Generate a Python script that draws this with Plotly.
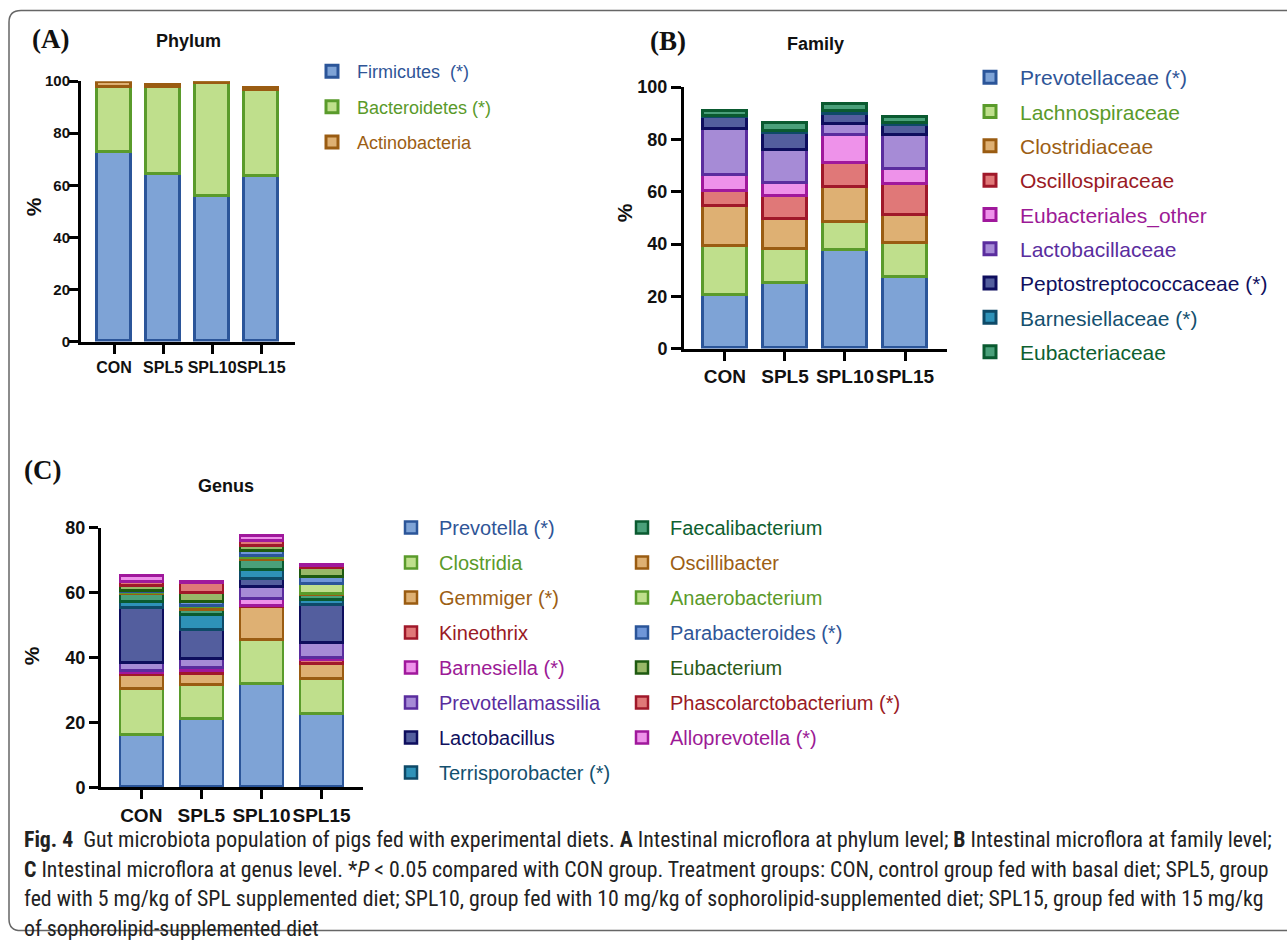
import plotly.graph_objects as go

W, H = 1287, 940

groups = ["CON", "SPL5", "SPL10", "SPL15"]

# ---- Phylum ----
phylum_names = ["Firmicutes  (*)", "Bacteroidetes (*)", "Actinobacteria"]
firmicutes = [72.9, 64.2, 56.0, 63.6]
bacteroidetes = [24.9, 33.6, 43.1, 32.9]
actinobacteria = [1.9, 0.5, 0.8, 0.8]
phylum_values = [firmicutes, bacteroidetes, actinobacteria]

# ---- Family ----
family_names = ["Prevotellaceae (*)", "Lachnospiraceae", "Clostridiaceae", "Oscillospiraceae",
                "Eubacteriales_other", "Lactobacillaceae", "Peptostreptococcaceae (*)",
                "Barnesiellaceae (*)", "Eubacteriaceae"]
prevotellaceae = [20.6, 24.9, 37.7, 27.5]
lachnospiraceae = [18.7, 13.2, 10.6, 12.7]
clostridiaceae = [15.0, 11.5, 13.6, 11.0]
oscillospiraceae = [6.1, 8.9, 9.1, 11.8]
eubacteriales_other = [5.8, 4.8, 10.5, 5.7]
lactobacillaceae = [17.8, 12.7, 4.5, 13.0]
peptostreptococcaceae = [4.7, 6.4, 3.8, 3.6]
barnesiellaceae = [0.3, 0.9, 1.2, 0.8]
eubacteriaceae = [1.8, 3.0, 2.4, 2.4]
family_values = [prevotellaceae, lachnospiraceae, clostridiaceae, oscillospiraceae,
                 eubacteriales_other, lactobacillaceae, peptostreptococcaceae,
                 barnesiellaceae, eubacteriaceae]

# ---- Genus ----
genus_names = ["Prevotella (*)", "Clostridia", "Gemmiger (*)", "Kineothrix", "Barnesiella (*)",
               "Prevotellamassilia", "Lactobacillus", "Terrisporobacter (*)",
               "Faecalibacterium", "Oscillibacter", "Anaerobacterium", "Parabacteroides (*)",
               "Eubacterium", "Phascolarctobacterium (*)", "Alloprevotella (*)"]
prevotella = [16.3, 21.0, 31.9, 22.5]
clostridia = [14.0, 10.7, 13.5, 10.8]
gemmiger = [4.3, 3.4, 10.3, 4.9]
kineothrix = [0.8, 0.7, 0.3, 1.0]
barnesiella = [0.5, 0.9, 2.0, 0.8]
prevotellamassilia = [2.6, 2.8, 3.8, 4.4]
lactobacillus = [16.8, 9.0, 2.6, 11.8]
terrisporobacter = [1.9, 4.6, 2.6, 1.5]
faecalibacterium = [2.3, 1.5, 3.0, 1.5]
oscillibacter = [0.4, 1.0, 0.6, 0.6]
anaerobacterium = [0.5, 0.5, 0.8, 2.8]
parabacteroides = [0.3, 1.2, 1.5, 2.2]
eubacterium = [1.5, 2.8, 1.7, 3.0]
phascolarctobacterium = [1.0, 2.8, 1.4, 0.5]
alloprevotella = [2.0, 0.4, 1.5, 0.2]
genus_values = [prevotella, clostridia, gemmiger, kineothrix, barnesiella, prevotellamassilia,
                lactobacillus, terrisporobacter, faecalibacterium, oscillibacter,
                anaerobacterium, parabacteroides, eubacterium, phascolarctobacterium,
                alloprevotella]

# ---- styles (fill, outline, legend text) ----
BLUE = ("#7ea3d6", "#2b5599", "#2f5597")
GREEN = ("#bfdf8c", "#5a9b2b", "#5a9a2a")
TAN = ("#deb073", "#9a5c12", "#9c5e14")
SALMON = ("#e07878", "#a0182a", "#9a1a24")
PINK = ("#ee92ea", "#a0189c", "#9c1a96")
LAV = ("#a68bd6", "#5a2d9e", "#5a2d9e")
SLATE = ("#535e9e", "#0e0e5e", "#10105e")
TEAL = ("#2e92b8", "#0e4a68", "#14506e")
DGREEN = ("#4aa07a", "#0a5a30", "#0e6030")
PBLUE = ("#6f96d8", "#2b5599", "#2f5597")
OLIVE = ("#98b868", "#1e5a10", "#2a5a18")

phylum_styles = [BLUE, GREEN, TAN]
family_styles = [BLUE, GREEN, TAN, SALMON, PINK, LAV, SLATE, TEAL, DGREEN]
genus_styles = [BLUE, GREEN, TAN, SALMON, PINK, LAV, SLATE, TEAL,
                DGREEN, TAN, GREEN, PBLUE, OLIVE, SALMON, PINK]

FONT = "Liberation Sans, Arial, sans-serif"

fig = go.Figure()


def add_stack(names, values, styles, xa, ya, legends, width, lw):
    for i, (n, v, s) in enumerate(zip(names, values, styles)):
        fig.add_trace(go.Bar(
            x=groups, y=v, name=f'<span style="color:{s[2]}">{n}</span>',
            marker=dict(color=s[0], line=dict(color=s[1], width=lw)),
            width=width, xaxis=xa, yaxis=ya, legend=legends[i],
            legendgroup=f"{xa}{i}", hoverinfo="skip"))


add_stack(phylum_names, phylum_values, phylum_styles, "x", "y", ["legend"] * 3, 0.7, 3)
add_stack(family_names, family_values, family_styles, "x2", "y2", ["legend2"] * 9, 0.72, 3)
add_stack(genus_names, genus_values, genus_styles, "x3", "y3",
          ["legend3"] * 8 + ["legend4"] * 7, 0.72, 2.5)

# the viewer shows the paper 11 px down and at 0.977 vertical scale
Y_OFF, Y_SC = 11.0, 0.977


def px_x(p):
    return p / W


def px_y(p):
    return 1 - ((p - Y_OFF) / Y_SC) / H


def axis(size, tl=9, standoff=0):
    return dict(showline=True, linewidth=3, linecolor="black", ticks="outside",
                ticklen=tl, tickwidth=3, tickcolor="black", showgrid=False,
                zeroline=False, fixedrange=True, tickangle=0, ticklabelstandoff=standoff,
                tickfont=dict(family=FONT, size=size, color="#111", weight="bold"))


fig.update_layout(
    width=W, height=H, autosize=False, paper_bgcolor="white", plot_bgcolor="white",
    margin=dict(l=0, r=0, t=0, b=0), barmode="stack", bargap=0,
    showlegend=True,
    xaxis=dict(domain=[px_x(81), px_x(295)], range=[-0.673, 3.69], anchor="y",
               type="category", **axis(16)),
    yaxis=dict(domain=[px_y(342), px_y(82)], range=[0, 100], anchor="x",
               tickvals=[0, 20, 40, 60, 80, 100], **axis(15, 9, -4)),
    xaxis2=dict(domain=[px_x(684), px_x(947)], range=[-0.683, 3.7], anchor="y2",
                type="category", **axis(19)),
    yaxis2=dict(domain=[px_y(349), px_y(88)], range=[0, 100], anchor="x2",
                tickvals=[0, 20, 40, 60, 80, 100], **axis(18, 10)),
    xaxis3=dict(domain=[px_x(101), px_x(363)], range=[-0.67, 3.69], anchor="y3",
                type="category", **axis(19)),
    yaxis3=dict(domain=[px_y(787), px_y(528)], range=[0, 80], anchor="x3",
                tickvals=[0, 20, 40, 60, 80], **axis(18, 9)),
)

leg_common = dict(orientation="v", traceorder="grouped", bgcolor="rgba(0,0,0,0)",
                  borderwidth=0, xanchor="left", yanchor="top", itemclick=False,
                  itemdoubleclick=False)
fig.update_layout(
    legend=dict(x=px_x(307), y=px_y(54), tracegroupgap=9, itemwidth=40,
                font=dict(family=FONT, size=18), **leg_common),
    legend2=dict(x=px_x(960), y=px_y(58), tracegroupgap=4, itemwidth=50,
                 font=dict(family=FONT, size=21), **leg_common),
    legend3=dict(x=px_x(383), y=px_y(508), tracegroupgap=6, itemwidth=46,
                 font=dict(family=FONT, size=20), **leg_common),
    legend4=dict(x=px_x(614), y=px_y(508), tracegroupgap=6, itemwidth=46,
                 font=dict(family=FONT, size=20), **leg_common),
)

ann = []
# panel labels
for txt, x, y in [("(A)", 30, 40), ("(B)", 648, 42), ("(C)", 22, 470)]:
    ann.append(dict(text=f"<b>{txt}</b>", x=px_x(x), y=px_y(y), xref="paper", yref="paper",
                    xanchor="left", yanchor="middle", showarrow=False,
                    font=dict(family="Liberation Serif, Times New Roman, serif", size=27,
                              color="#111")))
# titles
for txt, x, y in [("Phylum", 188, 42), ("Family", 815, 45), ("Genus", 226, 486)]:
    ann.append(dict(text=f"<b>{txt}</b>", x=px_x(x), y=px_y(y), xref="paper", yref="paper",
                    xanchor="center", yanchor="middle", showarrow=False,
                    font=dict(family=FONT, size=18, color="#111")))
# y-axis titles
for x, y in [(33, 208), (624, 214), (31, 656)]:
    ann.append(dict(text="<b>%</b>", x=px_x(x), y=px_y(y), xref="paper", yref="paper",
                    xanchor="center", yanchor="middle", showarrow=False, textangle=-90,
                    font=dict(family=FONT, size=21, color="#111")))

caption = [
    "<b>Fig. 4</b>  Gut microbiota population of pigs fed with experimental diets. <b>A</b> Intestinal "
    "microflora at phylum level; <b>B</b> Intestinal microflora at family level;",
    "<b>C</b> Intestinal microflora at genus level. *<i>P</i> &lt; 0.05 compared with CON group. "
    "Treatment groups: CON, control group fed with basal diet; SPL5, group",
    "fed with 5 mg/kg of SPL supplemented diet; SPL10, group fed with 10 mg/kg of "
    "sophorolipid-supplemented diet; SPL15, group fed with 15 mg/kg",
    "of sophorolipid-supplemented diet",
]
for i, line in enumerate(caption):
    ann.append(dict(text=line, x=px_x(22), y=px_y(839 + 29.5 * i), xref="paper", yref="paper",
                    xanchor="left", yanchor="middle", showarrow=False, align="left",
                    font=dict(family="Liberation Sans Narrow, Roboto Condensed, Liberation Sans, sans-serif",
                              size=21.8, color="#222")))
fig.update_layout(annotations=ann)

# rounded figure frame
x0, x1, y0, y1 = px_x(9), px_x(1300), px_y(930), px_y(11.6)
rx, ry = 12 / W, 12 / H
path = (f"M {x0 + rx},{y1} L {x1},{y1} M {x0 + rx},{y1} Q {x0},{y1} {x0},{y1 - ry} "
        f"L {x0},{y0 + ry} Q {x0},{y0} {x0 + rx},{y0} L {x1},{y0}")
fig.add_shape(type="path", path=path, xref="paper", yref="paper",
              line=dict(color="#666", width=1.5))

fig.write_html("out.html", config={"responsive": False, "displayModeBar": False},
               post_script="document.body.style.margin='0';document.body.style.overflow='hidden';")
